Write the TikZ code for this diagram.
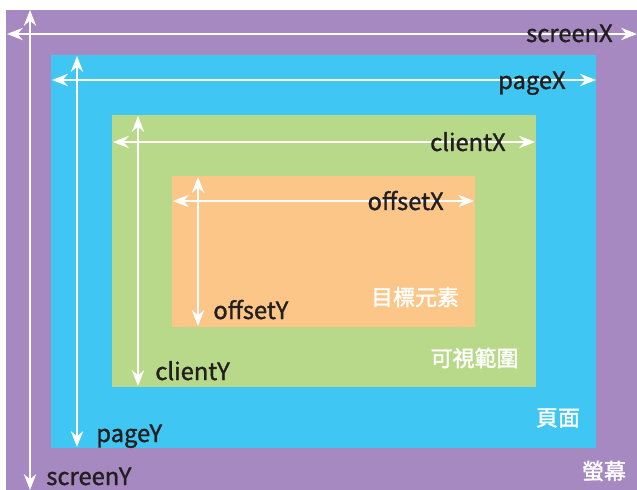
\documentclass[tikz,border=0pt]{standalone}
\usepackage{fontspec}
\setmainfont{Noto Sans CJK TC}
\newfontfamily\labelfont[RawFeature={embolden=1.3}]{Noto Sans CJK TC}
\newfontfamily\areafont[RawFeature={embolden=1.6}]{Noto Sans CJK TC}
\usetikzlibrary{arrows.meta}

\definecolor{screenfill}{HTML}{A589C0}
\definecolor{pagefill}{HTML}{40C6F2}
\definecolor{clientfill}{HTML}{B9D98A}
\definecolor{offsetfill}{HTML}{FBC688}
\definecolor{labeltext}{HTML}{231F20}

\begin{document}
\begin{tikzpicture}[x=0.02cm,y=-0.02cm,
  axis/.style={white,line width=1.1pt,
    {Stealth[length=9pt,width=7pt]}-{Stealth[length=9pt,width=7pt]}},
  coordlabel/.style={text=labeltext,inner sep=0pt,font=\labelfont\fontsize{13.5}{15}\selectfont},
  arealabel/.style={text=white,inner sep=0pt,font=\areafont\fontsize{12.5}{14}\selectfont}]
\useasboundingbox (0,0) rectangle (637,490);
% nested areas
\fill [screenfill] (6,10) rectangle (637,490);
\fill [pagefill] (51,55) rectangle (596,448);
\fill [clientfill] (112,115) rectangle (536,387);
\fill [offsetfill] (172,176) rectangle (475,327);
% arrow ends
\coordinate (screenL) at (7,34);
\coordinate (screenR) at (637,34);
\coordinate (screenT) at (30,10);
\coordinate (screenB) at (30,490);
\coordinate (pageL) at (52,80);
\coordinate (pageR) at (596,80);
\coordinate (pageT) at (77,56);
\coordinate (pageB) at (77,447);
\coordinate (clientL) at (113,142);
\coordinate (clientR) at (535,142);
\coordinate (clientT) at (138,116);
\coordinate (clientB) at (138,386);
\coordinate (offsetL) at (173,201);
\coordinate (offsetR) at (474,201);
\coordinate (offsetT) at (198,177);
\coordinate (offsetB) at (198,326);
% arrows
\draw [axis] (screenL) -- (screenR);
\draw [axis] (screenT) -- (screenB);
\draw [axis] (pageL) -- (pageR);
\draw [axis] (pageT) -- (pageB);
\draw [axis] (clientL) -- (clientR);
\draw [axis] (clientT) -- (clientB);
\draw [axis] (offsetL) -- (offsetR);
\draw [axis] (offsetT) -- (offsetB);
% coordinate labels
\node [coordlabel,anchor=base east] (screenX) at (613,42) {screenX};
\node [coordlabel,anchor=base east] (pageX) at (566,89) {pageX};
\node [coordlabel,anchor=base east] (clientX) at (506,151) {clientX};
\node [coordlabel,anchor=base east] (offsetX) at (444,210) {offsetX};
\node [coordlabel,anchor=base west] (offsetY) at (213,319) {offsetY};
\node [coordlabel,anchor=base west] (clientY) at (155,380) {clientY};
\node [coordlabel,anchor=base west] (pageY) at (96,442) {pageY};
\node [coordlabel,anchor=base west] (screenY) at (46,485) {screenY};
% area labels
\node [arealabel] (target) at (415,297) {目標元素};
\node [arealabel] (viewport) at (474.5,358) {可視範圍};
\node [arealabel] (page) at (558,418) {頁面};
\node [arealabel] (screen) at (604,471) {螢幕};
\end{tikzpicture}
\end{document}
